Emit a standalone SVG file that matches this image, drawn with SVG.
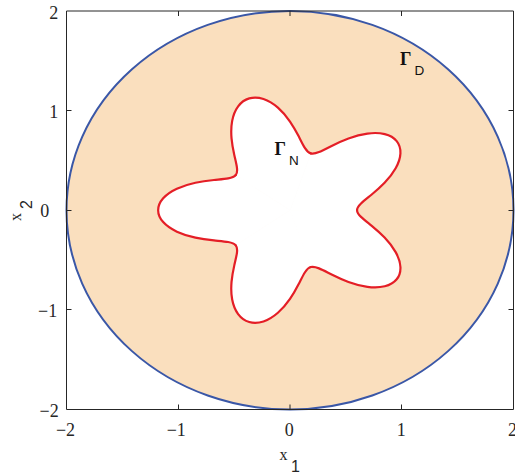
<svg xmlns="http://www.w3.org/2000/svg" width="515" height="474" viewBox="0 0 515 474">
<style>
.bg{fill:#ffffff}
.domain{fill:#fadfbe;stroke:#3a57a7;stroke-width:2}
.wedge{fill:#ffffff;stroke:#ffffff;stroke-width:1}
.lobe{fill:none;stroke:#e41e26;stroke-width:2.2;stroke-linejoin:round;stroke-linecap:round}
.axis{fill:none;stroke:#262626;stroke-width:1}
.tl{font-family:"Liberation Serif","Times New Roman",serif;font-size:18px;fill:#262626;text-anchor:middle}
.ttl{font-family:"Liberation Serif","Times New Roman",serif;font-size:16px;fill:#262626}
.sub1{font-family:"Liberation Sans",Arial,sans-serif;font-size:16px}
.gam{font-family:"Liberation Serif","Times New Roman",serif;font-size:18px;font-weight:bold;fill:#111111}
.sub2{font-family:"Liberation Sans",Arial,sans-serif;font-size:13.5px;font-weight:normal}
</style>
<defs>
<path id="wedge" class="wedge" vector-effect="non-scaling-stroke" d="M0,0 L.6,0 C.6,.020944 .61256,.04196 .6354,.06678 C.65824,.09161 .69125,.12034 .72872,.15489 C.76619,.18944 .8079,.22984 .84644,.27503 C.88498,.32022 .92017,.37015 .94552,.42098 C.97087,.47181 .98623,.5234 .98823,.57055 C.99023,.6177 .97885,.66027 .95464,.69359 C.93043,.72691 .89346,.75087 .848,.76354 C.80254,.77621 .74873,.77755 .69255,.76915 C.63637,.76075 .57802,.74272 .52313,.72003 C.46825,.69734 .41694,.67015 .3725,.64519 C.32806,.62023 .29054,.59772 .25987,.58367 C.2292,.56962 .20533,.56417 .18541,.57064 Z"/>
<path id="lobe" class="lobe" vector-effect="non-scaling-stroke" d="M.6,0 C.6,.020944 .61256,.04196 .6354,.06678 C.65824,.09161 .69125,.12034 .72872,.15489 C.76619,.18944 .8079,.22984 .84644,.27503 C.88498,.32022 .92017,.37015 .94552,.42098 C.97087,.47181 .98623,.5234 .98823,.57055 C.99023,.6177 .97885,.66027 .95464,.69359 C.93043,.72691 .89346,.75087 .848,.76354 C.80254,.77621 .74873,.77755 .69255,.76915 C.63637,.76075 .57802,.74272 .52313,.72003 C.46825,.69734 .41694,.67015 .3725,.64519 C.32806,.62023 .29054,.59772 .25987,.58367 C.2292,.56962 .20533,.56417 .18541,.57064"/>
</defs>
<rect class="bg" x="0" y="0" width="515" height="474"/>

<g id="domain">
<ellipse class="domain" cx="290" cy="210.2" rx="223.5" ry="199.3"/>
</g>

<g id="obstacle" transform="translate(290,210.2) scale(111.75,-99.65)">
<use href="#wedge"/>
<use href="#wedge" transform="rotate(72)"/>
<use href="#wedge" transform="rotate(144)"/>
<use href="#wedge" transform="rotate(216)"/>
<use href="#wedge" transform="rotate(288)"/>
<use href="#lobe"/>
<use href="#lobe" transform="rotate(72)"/>
<use href="#lobe" transform="rotate(144)"/>
<use href="#lobe" transform="rotate(216)"/>
<use href="#lobe" transform="rotate(288)"/>
</g>

<g id="axes">
<path class="axis" d="M66.5,11 H513.5 V409.5 H66.5 Z"/>
<path class="axis" d="M178.5,409.5 V404.5 M290,409.5 V404.5 M401.5,409.5 V404.5 M178.5,11 V16 M290,11 V16 M401.5,11 V16 M66.5,110.5 H71.5 M66.5,210.5 H71.5 M66.5,309.5 H71.5 M513.5,110.5 H508.5 M513.5,210.5 H508.5 M513.5,309.5 H508.5"/>
</g>

<g id="tick-labels">
<text class="tl" x="53.8" y="19.3">2</text>
<text class="tl" x="53.7" y="118.3">1</text>
<text class="tl" x="44.7" y="216.7">0</text>
<text class="tl" x="47.7" y="317">−1</text>
<text class="tl" x="49.2" y="417.3">−2</text>
<text class="tl" x="65.5" y="436">−2</text>
<text class="tl" x="176.3" y="436">−1</text>
<text class="tl" x="289.2" y="435.5">0</text>
<text class="tl" x="401.2" y="436">1</text>
<text class="tl" x="512.5" y="436">2</text>
</g>

<g id="axis-titles">
<text class="ttl" x="279.5" y="460">x<tspan class="sub1" x="291" y="471.5">1</tspan></text>
<text class="ttl" transform="translate(20.5,221) rotate(-90)">x<tspan class="sub1" x="12" y="11">2</tspan></text>
</g>

<g id="label-gamma-D">
<text class="gam" x="400" y="65">Γ<tspan class="sub2" x="414.5" y="75">D</tspan></text>
</g>
<g id="label-gamma-N">
<text class="gam" x="274.5" y="154.5">Γ<tspan class="sub2" x="289" y="165">N</tspan></text>
</g>
</svg>
